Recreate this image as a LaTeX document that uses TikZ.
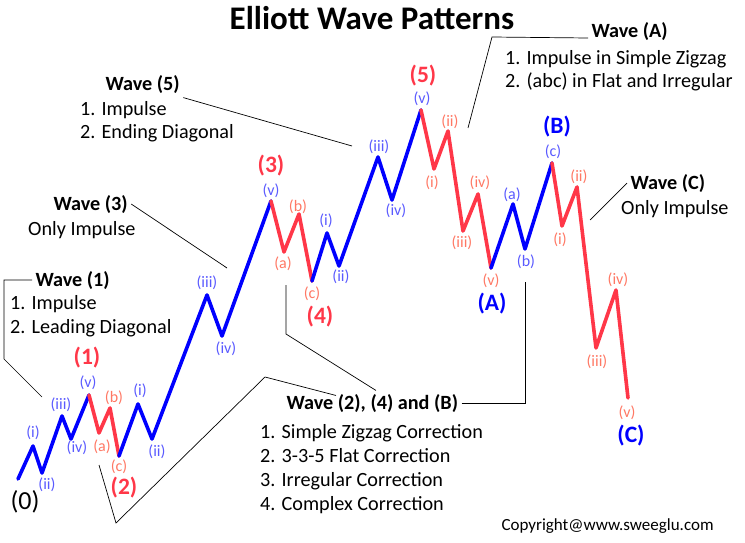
\documentclass[tikz,border=0pt]{standalone}
\usepackage{fontspec}
\setmainfont{Carlito}
\usepackage{tikz}
\usetikzlibrary{positioning}
\usepackage{xcolor}
\definecolor{wavered}{RGB}{255,55,72}
\definecolor{subred}{RGB}{255,120,100}
\definecolor{subblue}{RGB}{90,90,255}

\begin{document}
\begin{tikzpicture}[x=1pt,y=-1pt,
  rise/.style={line width=3.6pt,blue,line join=round,line cap=round},
  fall/.style={line width=3.6pt,wavered,line join=round,line cap=round},
  sub/.style={font=\fontsize{16}{18}\selectfont,inner sep=1pt},
  subb/.style={sub,text=subblue},
  subr/.style={sub,text=subred},
  big/.style={font=\bfseries\fontsize{23.5}{26}\selectfont,inner sep=1pt},
  head/.style={font=\bfseries\fontsize{20.2}{24}\selectfont,anchor=base west},
  items/.style={font=\fontsize{20.2}{23.8}\selectfont,anchor=base west,align=left,inner sep=0pt},
  lead/.style={line width=0.7pt,black}]
  \useasboundingbox (0,0) rectangle (745,543);

  % wave points
  \coordinate (w0) at (18,479);
  \coordinate (w1i) at (33,446); \coordinate (w1ii) at (42,473);
  \coordinate (w1iii) at (62,416); \coordinate (w1iv) at (71,439);
  \coordinate (w1) at (89,395);
  \coordinate (w2a) at (99,433); \coordinate (w2b) at (110,408);
  \coordinate (w2) at (119,456);
  \coordinate (w3i) at (138,404); \coordinate (w3ii) at (152,439);
  \coordinate (w3iii) at (207,295); \coordinate (w3iv) at (222,336);
  \coordinate (w3) at (271,201);
  \coordinate (w4a) at (284,252); \coordinate (w4b) at (299,214);
  \coordinate (w4) at (312,281);
  \coordinate (w5i) at (327,233); \coordinate (w5ii) at (339,266);
  \coordinate (w5iii) at (378,157); \coordinate (w5iv) at (392,200);
  \coordinate (w5) at (421,110);
  \coordinate (wAi) at (434,169); \coordinate (wAii) at (448,131);
  \coordinate (wAiii) at (463,231); \coordinate (wAiv) at (478,194);
  \coordinate (wA) at (491,268);
  \coordinate (wBa) at (513,204); \coordinate (wBb) at (525,249);
  \coordinate (wB) at (552,163);
  \coordinate (wCi) at (562,226); \coordinate (wCii) at (577,187);
  \coordinate (wCiii) at (596,348); \coordinate (wCiv) at (616,290);
  \coordinate (wC) at (628,398);

  \draw[rise] (w0)--(w1i)--(w1ii)--(w1iii)--(w1iv)--(w1);
  \draw[fall] (w1)--(w2a)--(w2b)--(w2);
  \draw[rise] (w2)--(w3i)--(w3ii)--(w3iii)--(w3iv)--(w3);
  \draw[fall] (w3)--(w4a)--(w4b)--(w4);
  \draw[rise] (w4)--(w5i)--(w5ii)--(w5iii)--(w5iv)--(w5);
  \draw[fall] (w5)--(wAi)--(wAii)--(wAiii)--(wAiv)--(wA);
  \draw[rise] (wA)--(wBa)--(wBb)--(wB);
  \draw[fall] (wB)--(wCi)--(wCii)--(wCiii)--(wCiv)--(wC);

  % sub-wave labels
  \node[subb] (l1i) at (33,433) {(i)};   \node[subb] (l1ii) at (47,485) {(ii)};
  \node[subb] (l1iii) at (61,405) {(iii)}; \node[subb] (l1iv) at (77,448) {(iv)};
  \node[subb] (l1v) at (88,383) {(v)};
  \node[subr] (l2a) at (102,447) {(a)}; \node[subr] (l2b) at (114,398) {(b)};
  \node[subr] (l2c) at (119,467) {(c)};
  \node[subb] (l3i) at (140,391) {(i)};   \node[subb] (l3ii) at (157,452) {(ii)};
  \node[subb] (l3iii) at (207,283) {(iii)}; \node[subb] (l3iv) at (226,349) {(iv)};
  \node[subb] (l3v) at (271,191) {(v)};
  \node[subr] (l4a) at (283,264) {(a)}; \node[subr] (l4b) at (298,207) {(b)};
  \node[subr] (l4c) at (312,294) {(c)};
  \node[subb] (l5i) at (326,221) {(i)};   \node[subb] (l5ii) at (341,277) {(ii)};
  \node[subb] (l5iii) at (379,147) {(iii)}; \node[subb] (l5iv) at (396,211) {(iv)};
  \node[subb] (l5v) at (422,99) {(v)};
  \node[subr] (lAi) at (432,183) {(i)};   \node[subr] (lAii) at (450,122) {(ii)};
  \node[subr] (lAiii) at (462,243) {(iii)}; \node[subr] (lAiv) at (480,183) {(iv)};
  \node[subr] (lAv) at (491,281) {(v)};
  \node[subb] (lBa) at (512,195) {(a)}; \node[subb] (lBb) at (526,262) {(b)};
  \node[subb] (lBc) at (553,152) {(c)};
  \node[subr] (lCi) at (560,240) {(i)};   \node[subr] (lCii) at (579,177) {(ii)};
  \node[subr] (lCiii) at (597,362) {(iii)}; \node[subr] (lCiv) at (618,280) {(iv)};
  \node[subr] (lCv) at (627,413) {(v)};

  % wave degree labels
  \node[font=\fontsize{26}{28}\selectfont] (n0) at (25,502) {(0)};
  \node[big,text=wavered] (n1) at (87,358) {(1)};
  \node[big,text=wavered] (n2) at (124,488) {(2)};
  \node[big,text=wavered] (n3) at (271,166) {(3)};
  \node[big,text=wavered] (n4) at (320,317) {(4)};
  \node[big,text=wavered] (n5) at (423,76) {(5)};
  \node[big,text=blue] (nA) at (492,304) {(A)};
  \node[big,text=blue] (nB) at (557,127) {(B)};
  \node[big,text=blue] (nC) at (631,436) {(C)};

  % title and notes
  \node[font=\bfseries\fontsize{33}{38}\selectfont] (title) at (372,18) {Elliott Wave Patterns};

  \node[head] (h5) at (102,91) {Wave (5)};
  \node[items] (t5) at (80,139) {1. Impulse\\2. Ending Diagonal};
  \node[head] (hA) at (588,38) {Wave (A)};
  \node[items] (tA) at (505,88) {1. Impulse in Simple Zigzag\\2. (abc) in Flat and Irregular};
  \node[head] (h3) at (50,210) {Wave (3)};
  \node[items] (t3) at (28,235) {Only Impulse};
  \node[head] (h1) at (32,286) {Wave (1)};
  \node[items] (t1) at (10,333) {1. Impulse\\2. Leading Diagonal};
  \node[head] (hC) at (627,189) {Wave (C)};
  \node[items] (tC) at (621,214) {Only Impulse};
  \node[head] (h24) at (283,409) {Wave (2), (4) and (B)};
  \node[items] (t24) at (260,510) {1. Simple Zigzag Correction\\2. 3-3-5 Flat Correction\\3. Irregular Correction\\4. Complex Correction};
  \node[anchor=base west,font=\fontsize{17}{20}\selectfont] (copy) at (498,530) {Copyright@www.sweeglu.com};

  % leader lines
  \coordinate (e5) at (352,146);
  \coordinate (kA) at (492,37); \coordinate (eA) at (468,128);
  \coordinate (e3) at (227,268);
  \coordinate (k1) at (4,359); \coordinate (e1) at (42,397);
  \coordinate (eC) at (590,220);
  \coordinate (kB) at (525,282);
  \coordinate (m4) at (286,285); \coordinate (n4b) at (286,334);
  \coordinate (m2) at (99,465); \coordinate (n2b) at (116,523); \coordinate (n2c) at (265,377);

  \draw[lead] (h5.south east) -- (e5);
  \draw[lead] (hA.base west) -- (kA) -- (eA);
  \draw[lead] (h3.east) -- (e3);
  \draw[lead] (h1.west) -- (h1.west -| k1) -- (k1) -- (e1);
  \draw[lead] (hC.west) -- (eC);
  \draw[lead] (h24.east) -- (h24.east -| kB) -- (kB);
  \draw[lead] (m4) -- (n4b) -- ([xshift=93pt]h24.north west);
  \draw[lead] (m2) -- (n2b) -- (n2c) -- ([xshift=53pt,yshift=-5pt]h24.north west);
\end{tikzpicture}
\end{document}
